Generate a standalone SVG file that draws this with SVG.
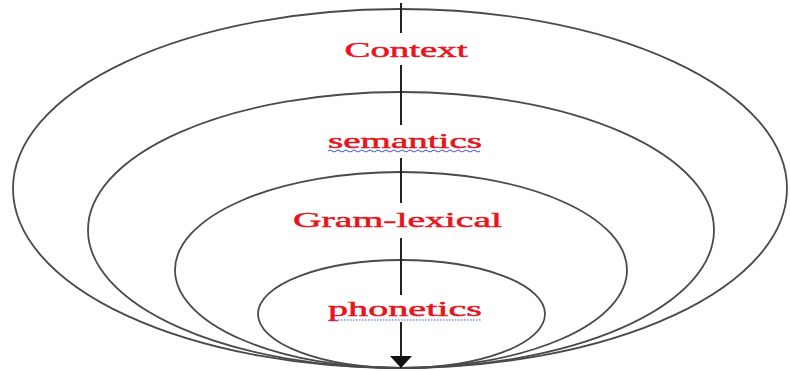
<svg xmlns="http://www.w3.org/2000/svg" width="790" height="371" viewBox="0 0 790 371">
<style>
.ring{fill:none;stroke:#4a4a4a;stroke-width:1.8}
.axis{stroke:#222;stroke-width:2;fill:none}
.lbl{font-family:"Liberation Serif","Times New Roman",serif;fill:#e8141c;stroke:#e8141c;stroke-width:0.5;font-size:22px}
.wavy{fill:none;stroke:#3a4fd8;stroke-width:1}
.dots{stroke:#3a4fd8;stroke-width:1.2;stroke-dasharray:1.5 1.5}
</style>
<defs>
<marker id="ah" markerWidth="12" markerHeight="22" refX="12" refY="11" orient="auto" markerUnits="userSpaceOnUse" viewBox="0 0 12 22">
<path d="M0,0 L12,11 L0,22 Z" fill="#111"/>
</marker>
</defs>
<rect width="790" height="371" fill="#fff"/>
<g id="context">
<ellipse class="ring" cx="400" cy="188.5" rx="387" ry="179.5"/>
<text class="lbl" x="406" y="57" text-anchor="middle" textLength="123" lengthAdjust="spacingAndGlyphs">Context</text>
</g>
<g id="semantics">
<ellipse class="ring" cx="401" cy="230" rx="313" ry="138"/>
<text class="lbl" x="405" y="148" text-anchor="middle" textLength="154" lengthAdjust="spacingAndGlyphs">semantics</text>
<path class="wavy" d="M328,151 q2,-2 4,0 t4,0 t4,0 t4,0 t4,0 t4,0 t4,0 t4,0 t4,0 t4,0 t4,0 t4,0 t4,0 t4,0 t4,0 t4,0 t4,0 t4,0 t4,0 t4,0 t4,0 t4,0 t4,0 t4,0 t4,0 t4,0 t4,0 t4,0 t4,0 t4,0 t4,0 t4,0 t4,0 t4,0 t4,0 t4,0 t4,0 t4,0"/>
</g>
<g id="gram-lexical">
<ellipse class="ring" cx="401" cy="270" rx="226" ry="98"/>
<text class="lbl" x="397.5" y="227" text-anchor="middle" textLength="209" lengthAdjust="spacingAndGlyphs">Gram-lexical</text>
</g>
<g id="phonetics">
<ellipse class="ring" cx="401.5" cy="314" rx="143.5" ry="54"/>
<text class="lbl" x="405" y="316" text-anchor="middle" textLength="154" lengthAdjust="spacingAndGlyphs">phonetics</text>
<line class="dots" x1="329" y1="320" x2="482" y2="320"/>
</g>
<g id="connectors">
<line class="axis" x1="401" y1="3" x2="401" y2="33"/>
<line class="axis" x1="401" y1="65" x2="401" y2="125"/>
<line class="axis" x1="401" y1="158" x2="401" y2="203"/>
<line class="axis" x1="401" y1="238" x2="401" y2="295"/>
<line class="axis" x1="401" y1="322" x2="401" y2="368" marker-end="url(#ah)"/>
</g>
</svg>
